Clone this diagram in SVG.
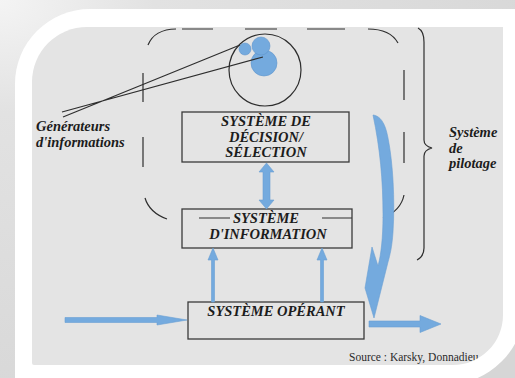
<svg xmlns="http://www.w3.org/2000/svg" width="515" height="378" viewBox="0 0 515 378">
  <defs>
    <radialGradient id="frameShade" cx="0" cy="0" r="1.2">
      <stop offset="0" stop-color="#f4f4f4"/>
      <stop offset="0.25" stop-color="#e2e2e2"/>
      <stop offset="1" stop-color="#d6d6d6"/>
    </radialGradient>
    <clipPath id="panelClip">
      <path d="M32,82 A55,55 0 0 1 87,27 L503,27 L503,315 A50,50 0 0 1 453,365 L34,365 Q32,365 32,363 Z"/>
    </clipPath>
    <style>
      .frame { fill: url(#frameShade); }
      .paper { fill: #ffffff; }
      .panel { fill: #e4e4e4; }
      .ink { fill: none; stroke: #2e2e2e; stroke-width: 1.2; stroke-linecap: butt; }
      .box { fill: none; stroke: #3a3a3a; stroke-width: 1.3; }
      .flow { fill: #74aade; stroke: #6a9fd4; stroke-width: 0.6; }
      .bubble { fill: #74aade; stroke: #5f95cc; stroke-width: 0.6; }
      .lbl { font-family: "Liberation Serif", "DejaVu Serif", serif; font-weight: bold; font-style: italic; font-size: 14.5px; fill: #1c1c1c; }
      .src { font-family: "Liberation Serif", "DejaVu Serif", serif; font-size: 11.5px; fill: #2a2a2a; }
    </style>
  </defs>

  <!-- picture frame: shaded border, white mat, grey panel -->
  <rect class="frame" x="0" y="0" width="515" height="378"/>
  <path class="paper" d="M15,84 A75,75 0 0 1 90,9 L525,9 L525,305 A80,80 0 0 1 445,385 L15,385 Z"/>
  <path class="panel" d="M32,82 A55,55 0 0 1 87,27 L503,27 L503,315 A50,50 0 0 1 453,365 L34,365 Q32,365 32,363 Z"/>

  <g clip-path="url(#panelClip)">
    <!-- dashed boundary of the steering system -->
    <g id="pilotage-boundary" class="ink">
      <path d="M148,45 C152,35 162,29 176,29"/>
      <path d="M182,29 H213 M245,29 H277 M307,29 H345"/>
      <path d="M368,29 C382,29 393,34 398,43"/>
      <path d="M404,70 V100 M404,132 V163"/>
      <path d="M404,195 C402,205 395,213 383,218"/>
      <path d="M143,73 V102 M143,137 V167"/>
      <path d="M145,198 C148,208 156,215 167,219"/>
      <path d="M199,218 H230 M322,218 H352"/>
    </g>

    <!-- information generators -->
    <g id="generateurs">
      <circle class="ink" cx="265" cy="70" r="36"/>
      <circle class="bubble" cx="245" cy="49" r="6"/>
      <circle class="bubble" cx="264" cy="63" r="13"/>
      <circle class="bubble" cx="261" cy="46" r="9"/>
      <path class="ink" d="M63,117 L240,45 M62,112 L263,57" stroke-width="1"/>
      <text class="lbl" x="36" y="131">Générateurs</text>
      <text class="lbl" x="36" y="147">d'informations</text>
    </g>

    <!-- right-hand brace and its label -->
    <g id="pilotage">
      <path class="ink" d="M418,28 C422,30 424,34 424,42 V140 C424,145 428,147 432,148 C428,149 424,151 424,156 V248 C424,255 421,258 417,260"/>
      <text class="lbl" x="449" y="137">Système</text>
      <text class="lbl" x="449" y="153">de</text>
      <text class="lbl" x="449" y="168">pilotage</text>
    </g>

    <g id="decision">
      <rect class="box" x="182" y="112" width="167" height="50"/>
      <text class="lbl" x="266" y="126" text-anchor="middle">SYSTÈME DE</text>
      <text class="lbl" x="266" y="142" text-anchor="middle">DÉCISION/</text>
      <text class="lbl" x="266" y="157" text-anchor="middle">SÉLECTION</text>
    </g>

    <g id="information">
      <rect class="box" x="182" y="209" width="170" height="39"/>
      <text class="lbl" x="266" y="223" text-anchor="middle">SYSTÈME</text>
      <text class="lbl" x="268" y="239" text-anchor="middle">D'INFORMATION</text>
    </g>

    <g id="operant">
      <rect class="box" x="188" y="302" width="176" height="37"/>
      <text class="lbl" x="276" y="316" text-anchor="middle">SYSTÈME OPÉRANT</text>
    </g>

    <!-- flows between the subsystems -->
    <g id="connectors">
      <path class="flow" d="M266.5,163 L274,172 L270,172 L270,200 L274,200 L266.5,209 L259,200 L263,200 L263,172 L259,172 Z"/>
      <path class="flow" d="M211.5,302 V260 H208 L213,248 L218,260 H214.5 V302 Z"/>
      <path class="flow" d="M320.5,302 V260 H317 L322,248 L327,260 H323.5 V302 Z"/>
      <path class="flow" d="M65,317.5 H157 L157,315 L187,320 L157,325 L157,322.5 H65 Z"/>
      <path class="flow" d="M369,321 H420 V315.5 L441,324 L420,332.5 V327 H369 Z"/>
      <path class="flow" d="M373,115 C380,116 385,122 388,138 C393,163 395,200 393,232 C392,247 390,255 388,262 L374,318 L365,288 L372,247 L378,266 C381,255 383,238 383,215 C383,180 380,148 373,115 Z"/>
    </g>

    <text class="src" x="349" y="361">Source : Karsky, Donnadieu</text>
  </g>
</svg>
